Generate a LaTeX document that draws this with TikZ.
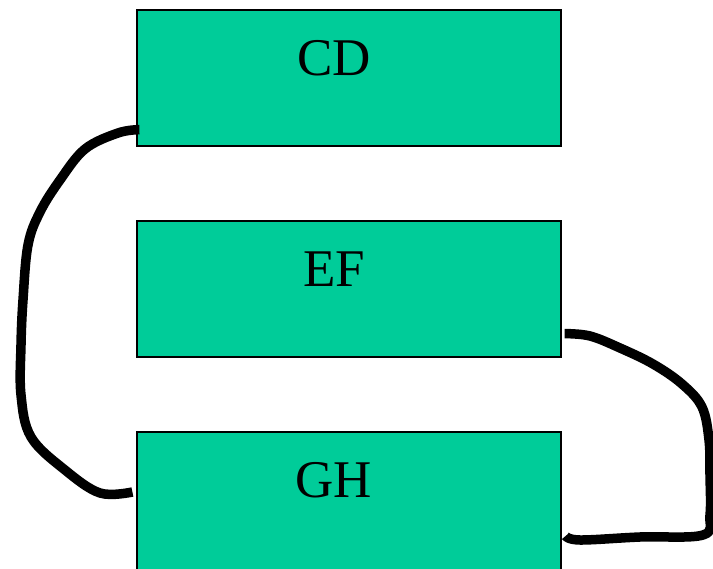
\documentclass[tikz,border=0pt]{standalone}
\usepackage{fontspec}
\setmainfont{Liberation Serif}
\definecolor{boxgreen}{RGB}{0,204,153}
\begin{document}
\begin{tikzpicture}[
  x=1pt, y=-1pt,
  box/.style = {draw, fill=boxgreen, line width=1.2pt, inner sep=0,
                minimum width=424pt, minimum height=136pt},
  lbl/.style = {font=\fontsize{53}{60}\selectfont, anchor=base,
                xshift=-15pt, yshift=-66pt},
  wire/.style = {line width=9.5pt, line join=round},
  ]
  \useasboundingbox (0,0) rectangle (713,569);

  \node[box, label={[lbl]north:CD}] (cd) at (349,78) {};
  \node[box, label={[lbl]north:EF}] (ef) at (349,289) {};
  \node[box, minimum height=138pt, label={[lbl]north:GH}] (gh) at (349,501) {};

  % left wire, CD to GH
  \draw[wire] plot[smooth, tension=0.6] coordinates {
    ([shift={(3,-17)}]cd.south west) (118,133) (85,149) (60,180) (40,212)
    (28,245) (23,300) (21,345) (21,395) (31,437) (65,470) (100,493)
    ([shift={(-4,-9)}]gh.west)};

  % right wire, EF to GH
  \draw[wire] plot[smooth, tension=0.6] coordinates {
    ([shift={(3,-24)}]ef.south east) (590,336) (620,348) (653,364) (682,384)
    (702,407) (709,440) (710,475) (710,515) (703,535) (640,537) (580,540)
    ([shift={(4,35)}]gh.east)};
\end{tikzpicture}
\end{document}
